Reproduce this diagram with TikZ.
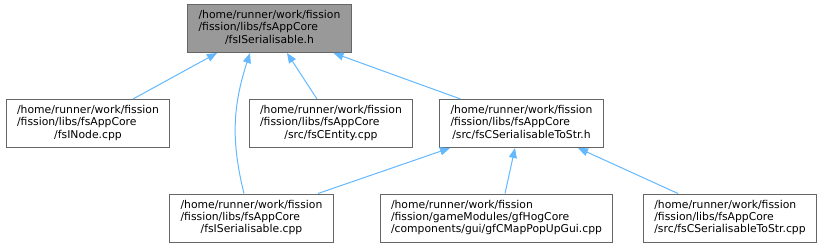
\documentclass[tikz,border=0pt]{standalone}
\usepackage{fontspec}
\setmainfont{DejaVu Sans}
\usetikzlibrary{arrows.meta}
\definecolor{edgeblue}{HTML}{63B8FF}
\definecolor{boxline}{HTML}{666666}
\definecolor{hdrfill}{HTML}{999999}
\newcommand{\fpath}[3]{\begin{tabular}{@{}l@{}}#1\\#2\\\multicolumn{1}{@{}c@{}}{#3}\end{tabular}}

\begin{document}
\begin{tikzpicture}[
  x=1pt,
  y=-1pt,
  every node/.style={font=\fontsize{10.8}{12.2}\selectfont, black},
  file/.style={draw=boxline, fill=white, line width=1pt, inner xsep=11pt,
    inner ysep=0pt, minimum height=48pt},
  hdr/.style={file, fill=hdrfill},
  edge/.style={edgeblue, line width=1pt, -{Triangle[length=10pt, width=8pt]}}
]
  \useasboundingbox (0,0) rectangle (823,247);

  % ================= the header ===========================================
  \node[hdr] (hdr) at (269.5,28.5)
    {\fpath{/home/runner/work/fission}{/fission/libs/fsAppCore}{/fsISerialisable.h}};

  % ================= second row ===========================================
  \node[file] (inode) at (88,123.5)
    {\fpath{/home/runner/work/fission}{/fission/libs/fsAppCore}{/fsINode.cpp}};
  \node[file] (entity) at (331,123.5)
    {\fpath{/home/runner/work/fission}{/fission/libs/fsAppCore}{/src/fsCEntity.cpp}};
  \node[file] (tostrh) at (521.5,123.5)
    {\fpath{/home/runner/work/fission}{/fission/libs/fsAppCore}{/src/fsCSerialisableToStr.h}};

  % ================= third row ============================================
  \node[file] (sercpp) at (251.5,218)
    {\fpath{/home/runner/work/fission}{/fission/libs/fsAppCore}{/fsISerialisable.cpp}};
  \node[file] (popup) at (496.5,218)
    {\fpath{/home/runner/work/fission}{/fission/gameModules/gfHogCore}{/components/gui/gfCMapPopUpGui.cpp}};
  \node[file] (tostrcpp) at (730,218)
    {\fpath{/home/runner/work/fission}{/fission/libs/fsAppCore}{/src/fsCSerialisableToStr.cpp}};

  % ================= includes of the header ===============================
  \draw[edge] ([xshift=45pt]inode.north) -- ([xshift=-52.5pt]hdr.south);
  \draw[edge] ([xshift=-7.5pt]sercpp.north) to[out=104, in=252]
    ([xshift=-19.5pt]hdr.south);
  \draw[edge] ([xshift=-14pt]entity.north) -- ([xshift=17.5pt]hdr.south);
  \draw[edge] ([xshift=-61pt]tostrh.north) -- ([xshift=64pt]hdr.south);

  % ================= includes of fsCSerialisableToStr.h ===================
  \draw[edge] ([xshift=66.5pt]sercpp.north) -- ([xshift=-71.5pt]tostrh.south);
  \draw[edge] ([xshift=8.5pt]popup.north) -- ([xshift=-6.5pt]tostrh.south);
  \draw[edge] ([xshift=-52pt]tostrcpp.north) -- ([xshift=56.5pt]tostrh.south);
\end{tikzpicture}
\end{document}
